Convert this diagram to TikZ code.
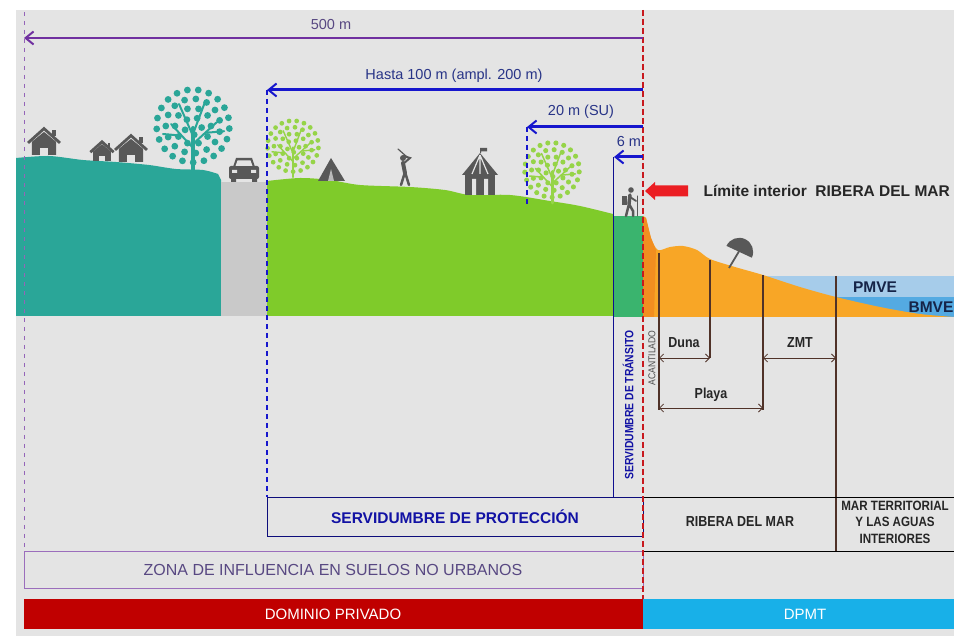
\documentclass[tikz,border=0pt]{standalone}
\usepackage{fontspec}
\setmainfont{Liberation Sans}
\newfontfamily\estrecha[FakeStretch=0.86]{Liberation Sans}
\usetikzlibrary{arrows.meta}

\definecolor{fondo}{RGB}{228,228,228}
\definecolor{turquesa}{RGB}{42,166,152}
\definecolor{verde}{RGB}{127,203,42}
\definecolor{verdehoja}{RGB}{150,212,72}
\definecolor{verdetr}{RGB}{58,180,110}
\definecolor{carretera}{RGB}{201,201,201}
\definecolor{arena}{RGB}{248,166,38}
\definecolor{acantilado}{RGB}{242,142,32}
\definecolor{aguaclara}{RGB}{166,204,234}
\definecolor{aguaoscura}{RGB}{84,170,226}
\definecolor{morado}{RGB}{112,48,160}
\definecolor{moradotxt}{RGB}{88,72,130}
\definecolor{azul}{RGB}{22,22,205}
\definecolor{azultxt}{RGB}{40,52,135}
\definecolor{rojo}{RGB}{235,30,35}
\definecolor{granate}{RGB}{192,0,0}
\definecolor{celeste}{RGB}{24,176,232}
\definecolor{icono}{RGB}{88,88,88}
\definecolor{marron}{RGB}{80,50,40}
\definecolor{marino}{RGB}{22,36,72}

% casa: base en (#1,#2), escala #3
\newcommand{\casa}[3]{%
  \begin{scope}[shift={(#1,#2)},scale=#3]
    \fill[icono] (-11,0) -- (-11,-12) -- (0,-21) -- (11,-12) -- (11,0) -- cycle;
    \draw[icono,line width=2.8pt] (-14.5,-11) -- (0,-24) -- (14.5,-11);
    \fill[icono] (7,-23) rectangle (10.5,-17);
    \fill[fondo] (-3.5,0) rectangle (3.5,-6.5);
  \end{scope}}

% arbol de puntos: base en (#1,#2), radio de copa #3, color #4
\newcommand{\arbol}[4]{%
  \begin{scope}[shift={(#1,#2)}]
    \draw[#4,line width=0.1*#3,line cap=round] (0,0) -- (0,-1.05*#3);
    \draw[#4,line width=0.05*#3,line cap=round]
      (0,-0.55*#3) -- (-0.55*#3,-1.15*#3)
      (0,-0.65*#3) -- (0.6*#3,-1.2*#3)
      (0,-0.85*#3) -- (-0.35*#3,-1.65*#3)
      (0,-0.9*#3) -- (0.3*#3,-1.7*#3)
      (-0.3*#3,-0.86*#3) -- (-0.75*#3,-0.9*#3)
      (0.32*#3,-0.93*#3) -- (0.78*#3,-0.97*#3);
    \foreach \r/\n/\o in {0.22/5/10,0.45/10/0,0.68/15/12,0.91/21/4}
      \foreach \i in {1,...,\n}
        \fill[#4] (0,-1.1*#3) ++(\o+\i*360/\n:\r*#3) circle (0.085*#3);
  \end{scope}}

\begin{document}
\begin{tikzpicture}[x=1pt,y=-1pt,
    punta/.style={-{Straight Barb[length=8pt,width=13pt,line width=2pt]}},
    cota/.style={marron,line width=0.8pt,{Straight Barb[length=4pt,width=8pt]}-{Straight Barb[length=4pt,width=8pt]}},
    corte/.style={marron,line width=1.1pt},
    rotulo/.style={font=\fontsize{14.5}{17}\selectfont},
    tramo/.style={font=\estrecha\bfseries\fontsize{14.5}{16.5}\selectfont,text=black!85,align=center}]
\useasboundingbox (0,0) rectangle (954,636);
\fill[fondo] (16,10) rectangle (954,636);

% terreno
\fill[turquesa] (16,316) -- plot[smooth] coordinates {(16,158) (49,156) (83,160) (116,162) (149,165) (176,169) (203,170) (218,174)} -- (221,180) -- (221,316) -- cycle;
\fill[carretera] (221,182) rectangle (267,316);
\fill[verde] (267,316) -- plot[smooth] coordinates {(267,181) (300,178) (330,180) (360,185) (410,187) (445,190) (470,195) (510,195) (550,201) (580,206) (613,214)} -- (613,316) -- cycle;
\fill[verdetr] (613,216) rectangle (643,317);

% mar
\fill[aguaclara] (755,276) rectangle (954,317);
\fill[aguaoscura] (820,297) rectangle (954,317);
\fill[arena] (643,317) -- (643,216) -- plot[smooth] coordinates {(646,218) (651,238) (658,250) (670,247) (683,246) (697,250) (710,259) (735,267) (763,275) (800,287) (836,297) (880,307) (920,314) (954,317)} -- cycle;
\fill[acantilado] (643,216) -- (646,218) -- (651,238) -- (656,250) -- (654,317) -- (643,317) -- cycle;

% iconos
\casa{44}{155}{1.1}
\casa{102}{161}{0.8}
\casa{131}{162}{1.1}
\arbol{193}{170}{40}{turquesa}
\arbol{293}{177}{28}{verdehoja}
\arbol{552}{203}{30}{verdehoja}
\begin{scope}[shift={(244,182)}]
  \fill[icono,rounded corners=2pt] (-15,-3) rectangle (15,-16);
  \fill[icono] (-11,-15) -- (-8,-24) -- (8,-24) -- (11,-15) -- cycle;
  \fill[fondo] (-8.5,-16) -- (-6.5,-21.5) -- (6.5,-21.5) -- (8.5,-16) -- cycle;
  \fill[fondo] (-12,-9) rectangle (-7,-12) (7,-9) rectangle (12,-12);
  \fill[icono] (-13,0) rectangle (-8,-4) (8,0) rectangle (13,-4);
\end{scope}
\fill[icono] (318,181) -- (331,158) -- (345,181) -- cycle;
\fill[fondo!70!icono] (331,169) -- (328,181) -- (334,181) -- cycle;
\begin{scope}[icono,line cap=round]
  \fill (403,158) circle (3);
  \draw[line width=4pt] (403,163) -- (405,173);
  \draw[line width=2.5pt] (405,172) -- (401,185) (405,172) -- (409,185);
  \draw[line width=2pt] (403,164) -- (410,158) -- (404,156);
  \draw[line width=1.2pt] (407,157) -- (398,149);
\end{scope}
\begin{scope}[shift={(480,195)}]
  \fill[icono] (-15,0) rectangle (15,-22);
  \fill[icono] (-18,-20) -- (0,-42) -- (18,-20) -- cycle;
  \draw[fondo,line width=1.2pt] (0,-40) -- (-8,-21) (0,-40) -- (0,-21) (0,-40) -- (8,-21);
  \fill[fondo] (-8,0) rectangle (-4,-16) (4,0) rectangle (8,-16);
  \fill[icono] (0,-42) rectangle (1,-47) (1,-47) rectangle (7,-43.5);
\end{scope}
\begin{scope}[shift={(630,216)},icono,line cap=round]
  \fill (1,-26) circle (2.8);
  \fill (-8,-20) rectangle (-3,-11);
  \draw[line width=3.5pt] (0,-21) -- (-1,-12);
  \draw[line width=2.5pt] (-1,-12) -- (-4,0) (-1,-12) -- (3,-5) -- (3,0);
  \draw[line width=1.8pt] (0,-19) -- (6,-15);
  \draw[line width=1pt] (7,-20) -- (7,0);
\end{scope}
\fill[icono,rotate around={-25:(740,250)}] (726,252) arc[start angle=180,end angle=360,radius=14] -- cycle;
\draw[icono,line width=1.8pt] (741,248) -- (729,268);

% tramos de la playa
\coordinate (dunaA) at (659,253);
\coordinate (dunaB) at (710,260);
\coordinate (playaB) at (763,275);
\coordinate (zmtB) at (836,276);
\draw[corte] (dunaA) -- (659,410);
\draw[corte] (dunaB) -- (710,358);
\draw[corte] (playaB) -- (763,410);
\draw[corte] (zmtB) -- (836,551);
\draw[cota] (659,358) -- (710,358);
\draw[cota] (763,358) -- (836,358);
\draw[cota] (659,408) -- (763,408);
\node[tramo] (duna) at (684,343) {Duna};
\node[tramo] (zmt) at (800,343) {ZMT};
\node[tramo] (playa) at (711,395) {Playa};

% cuadro inferior
\draw[azul!60!black,line width=0.7pt] (267,497) rectangle (643,536);
\node[font=\bfseries\fontsize{15.5}{18}\selectfont,text=azul!80!black] (proteccion) at (455,517) {SERVIDUMBRE DE PROTECCIÓN};
\draw[black,line width=1pt] (643,497) -- (954,497) (643,551) -- (954,551);
\node[tramo] (ribera) at (740,522) {RIBERA DEL MAR};
\node[tramo,font=\estrecha\bfseries\fontsize{13.5}{16.5}\selectfont] (mar) at (895,522) {MAR TERRITORIAL\\Y LAS AGUAS\\INTERIORES};
\draw[morado!70,line width=0.7pt] (24,551) rectangle (643,588);
\node[font=\fontsize{16}{18}\selectfont,text=moradotxt] (influencia) at (333,570) {ZONA DE INFLUENCIA EN SUELOS NO URBANOS};

% lineas verticales
\draw[morado!75,line width=1pt,dash pattern=on 4pt off 5pt] (24,12) -- (24,551);
\draw[azul,line width=1.6pt,dash pattern=on 5pt off 4pt] (267,90) -- (267,497);
\draw[azul,line width=1.6pt,dash pattern=on 5pt off 4pt] (527,127) -- (527,204);
\draw[azul!70!black,line width=1pt] (613,157) -- (613,497);
\draw[rojo!85!black,line width=1.6pt,dash pattern=on 6pt off 3pt] (643,10) -- (643,599);

% distancias desde el limite interior
\coordinate (lim500) at (643,38);   \coordinate (fin500) at (24,38);
\coordinate (lim100) at (643,90);   \coordinate (fin100) at (267,90);
\coordinate (lim20) at (643,127);   \coordinate (fin20) at (527,127);
\coordinate (lim6) at (643,157);    \coordinate (fin6) at (614,157);
\draw[punta,morado,line width=2pt] (lim500) -- (fin500);
\draw[punta,azul,line width=3pt] (lim100) -- (fin100);
\draw[punta,azul,line width=3pt] (lim20) -- (fin20);
\draw[punta,azul,line width=3pt] (lim6) -- (fin6);
\node[rotulo,text=moradotxt] (m500) at (331,25) {500 m};
\node[rotulo,text=azultxt] (m100) at (454,76) {Hasta 100 m (ampl. 200 m)};
\node[rotulo,text=azultxt] (m20) at (581,112) {20 m (SU)};
\node[rotulo,text=azultxt] (m6) at (629,142) {6 m};

% limite interior de la ribera
\fill[rojo] (645,191) -- (655,182) -- (655,185.5) -- (688,185.5) -- (688,196.5) -- (655,196.5) -- (655,200) -- cycle;
\node[font=\bfseries\fontsize{15.5}{18}\selectfont,text=black!85,anchor=west] (ribint) at (700,191) {Límite interior\ \ RIBERA DEL MAR};
\node[font=\bfseries\fontsize{15.5}{18}\selectfont,text=marino] (pmve) at (875,287) {PMVE};
\node[font=\bfseries\fontsize{15.5}{18}\selectfont,text=marino] (bmve) at (931,307) {BMVE};

% textos verticales
\node[font=\estrecha\bfseries\fontsize{12}{14}\selectfont,text=azul!80!black,rotate=90] (transito) at (628,405) {SERVIDUMBRE DE TRÁNSITO};
\node[font=\estrecha\fontsize{10}{12}\selectfont,text=black!70,rotate=90] (acant) at (652,358) {ACANTILADO};

% dominios
\fill[granate] (24,599) rectangle (643,629);
\fill[celeste] (643,599) rectangle (954,629);
\node[font=\fontsize{15}{18}\selectfont,text=white] (privado) at (333,614) {DOMINIO PRIVADO};
\node[font=\fontsize{15}{18}\selectfont,text=white] (dpmt) at (805,614) {DPMT};
\end{tikzpicture}
\end{document}
